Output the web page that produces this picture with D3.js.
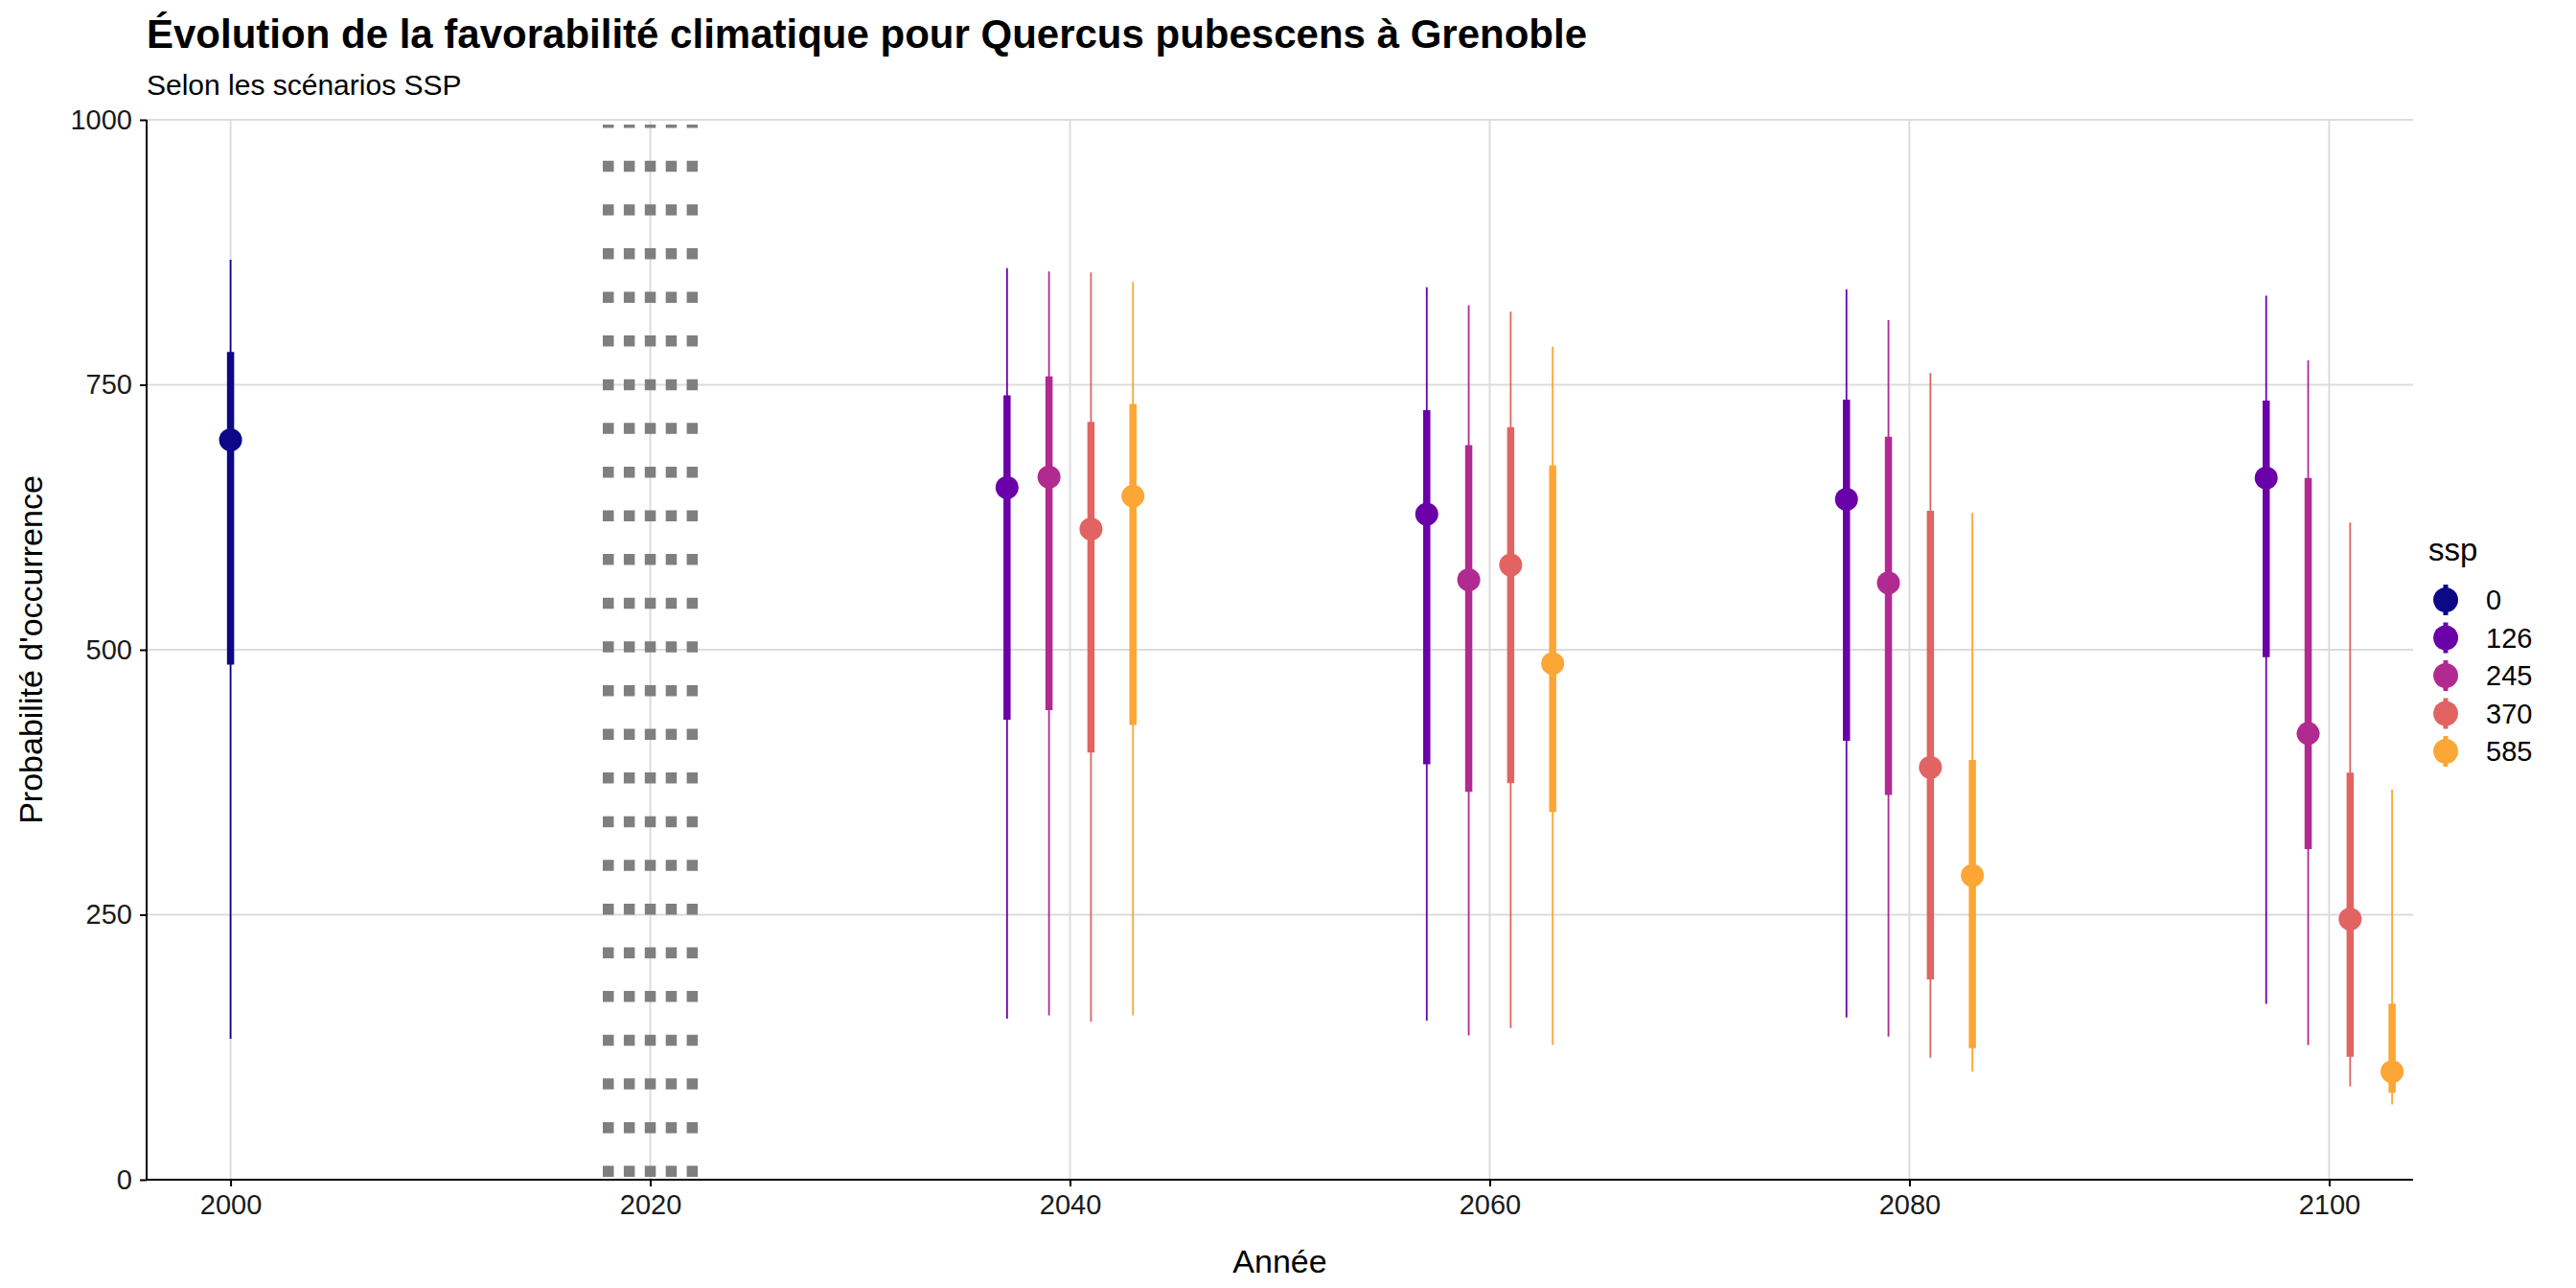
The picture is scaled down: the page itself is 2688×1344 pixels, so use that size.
<!DOCTYPE html>
<html><head><meta charset="utf-8">
<script src="https://cdn.jsdelivr.net/npm/d3@7"></script>
<style>body{margin:0;background:#fff}text{font-family:"Liberation Sans",Arial,sans-serif}</style>
</head><body><svg id="c" width="2688" height="1344"></svg>
<script>
const ssps = ["0","126","245","370","585"];
const colors = ["#0d0887","#6a00a8","#b12a90","#e16462","#fca636"];
const years = [2000,2037,2039,2041,2043,2057,2059,2061,2063,2077,2079,2081,2083,2097,2099,2101,2103];
const sspOf = ["0","126","245","370","585","126","245","370","585","126","245","370","585","126","245","370","585"];
const mid   = [698,653,663,614,645,628,566,580,487,642,563,389,287,662,421,246,102];
const q25   = [486,434,443,403,429,392,366,374,347,414,363,189,124,493,312,116,82];
const q75   = [781,740,758,715,732,726,693,710,674,736,701,631,396,735,662,384,166];
const q05   = [133,152,155,149,155,150,136,143,127,153,135,115,102,166,127,88,71];
const q95   = [868,860,857,856,847,842,825,819,786,840,811,761,629,834,773,620,368];
const xTicks = [2000,2020,2040,2060,2080,2100];
const yTicks = [0,250,500,750,1000];
const refYears = [2018,2019,2020,2021,2022];

const svg = d3.select("#c");
const L=153,R=2518,T=125,B=1231;
const x = d3.scaleLinear().domain([1996,2104]).range([L,R]);
const y = d3.scaleLinear().domain([0,1000]).range([B,T]);
const col = d3.scaleOrdinal().domain(ssps).range(colors);

const g = svg.append("g");
g.selectAll(".gy").data(yTicks).join("line").attr("x1",L).attr("x2",R).attr("y1",d=>y(d)).attr("y2",d=>y(d)).attr("stroke","#dcdcdc").attr("stroke-width",2);
g.selectAll(".gx").data(xTicks).join("line").attr("y1",T).attr("y2",B).attr("x1",d=>x(d)).attr("x2",d=>x(d)).attr("stroke","#dcdcdc").attr("stroke-width",2);

g.selectAll(".ref").data(refYears).join("line").attr("x1",d=>x(d)).attr("x2",d=>x(d)).attr("y1",y(0)-3).attr("y2",y(1000)+5).attr("stroke","#7f7f7f").attr("stroke-width",11.5).attr("stroke-dasharray","11.5 34.1");

const data = years.map((yr,i)=>({yr,s:sspOf[i],m:mid[i],a:q25[i],b:q75[i],lo:q05[i],hi:q95[i]}));
g.selectAll(".thin").data(data).join("line").attr("x1",d=>x(d.yr)).attr("x2",d=>x(d.yr)).attr("y1",d=>y(d.lo)).attr("y2",d=>y(d.hi)).attr("stroke",d=>col(d.s)).attr("stroke-width",1.8);
g.selectAll(".thick").data(data).join("line").attr("x1",d=>x(d.yr)).attr("x2",d=>x(d.yr)).attr("y1",d=>y(d.a)).attr("y2",d=>y(d.b)).attr("stroke",d=>col(d.s)).attr("stroke-width",7.5);
g.selectAll(".pt").data(data).join("circle").attr("cx",d=>x(d.yr)).attr("cy",d=>y(d.m)).attr("r",12).attr("fill",d=>col(d.s));

const xa = svg.append("g").attr("transform",`translate(0,${B})`).call(d3.axisBottom(x).tickValues(xTicks).tickFormat(d3.format("d")).tickSize(7).tickPadding(8));
const ya = svg.append("g").attr("transform",`translate(${L},0)`).call(d3.axisLeft(y).tickValues(yTicks).tickFormat(d3.format("d")).tickSize(7).tickPadding(8));
[xa,ya].forEach(a=>{a.selectAll("text").attr("font-size",29).attr("fill","#1a1a1a");a.selectAll("line,path").attr("stroke","#000").attr("stroke-width",2);});
xa.select(".domain").attr("d",`M${L},0H${R}`);
ya.select(".domain").attr("d",`M0,${B}V${T}`);

svg.append("text").attr("x",153).attr("y",50).attr("font-size",42).attr("font-weight","bold").text("Évolution de la favorabilité climatique pour Quercus pubescens à Grenoble");
svg.append("text").attr("x",153).attr("y",99).attr("font-size",30).text("Selon les scénarios SSP");
svg.append("text").attr("x",(L+R)/2).attr("y",1328).attr("text-anchor","middle").attr("font-size",34).text("Année");
svg.append("text").attr("transform",`translate(44,${(T+B)/2}) rotate(-90)`).attr("text-anchor","middle").attr("font-size",34).text("Probabilité d'occurrence");

const lg = svg.append("g");
lg.append("text").attr("x",2534).attr("y",585).attr("font-size",33).text("ssp");
ssps.forEach((s,i)=>{
  const cy=626+i*39.5;
  lg.append("line").attr("x1",2552).attr("x2",2552).attr("y1",cy-16).attr("y2",cy+16).attr("stroke",colors[i]).attr("stroke-width",5);
  lg.append("circle").attr("cx",2552).attr("cy",cy).attr("r",13).attr("fill",colors[i]);
  lg.append("text").attr("x",2594).attr("y",cy+10).attr("font-size",29).text(s);
});
</script></body></html>
